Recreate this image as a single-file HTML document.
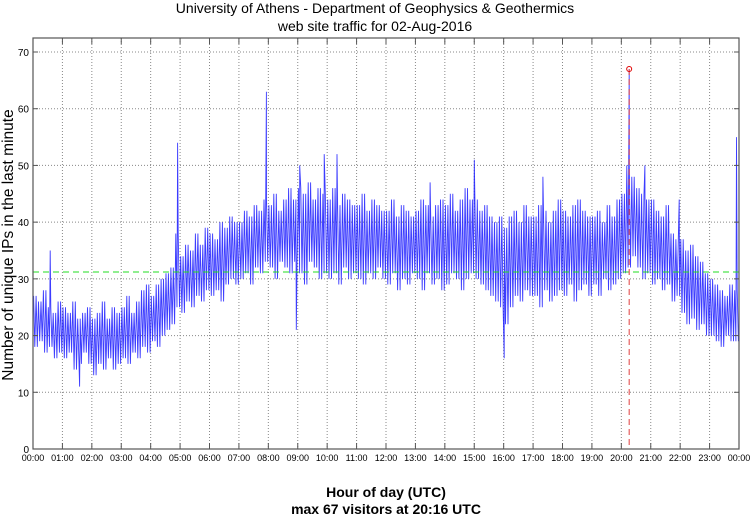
<!DOCTYPE html>
<html><head><meta charset="utf-8"><style>
body{margin:0;background:#fff;}
svg{display:block;font-family:"Liberation Sans",sans-serif;}
</style></head><body>
<svg id="chart" width="750" height="515" viewBox="0 0 750 515">
<text x="375" y="13" text-anchor="middle" font-size="14">University of Athens - Department of Geophysics &amp; Geothermics</text>
<text x="375" y="31" text-anchor="middle" font-size="14">web site traffic for 02-Aug-2016</text>
<text transform="translate(13,245) rotate(-90)" text-anchor="middle" font-size="15.5">Number of unique IPs in the last minute</text>
<text x="386" y="497" text-anchor="middle" font-size="14" font-weight="bold">Hour of day (UTC)</text>
<text x="386" y="514" text-anchor="middle" font-size="14" font-weight="bold">max 67 visitors at 20:16 UTC</text>
<g id="grid"></g><g id="series"></g><g id="axes"></g>
</svg>
<script>
const yTicks=[0,10,20,30,40,50,60,70];
const xTickLabels=["00:00","01:00","02:00","03:00","04:00","05:00","06:00","07:00","08:00","09:00","10:00","11:00","12:00","13:00","14:00","15:00","16:00","17:00","18:00","19:00","20:00","21:00","22:00","23:00","00:00"];
const binLow=[18,19,17,18,16,17,16,17,14,15,17,15,13,15,14,16,14,15,16,15,17,16,18,17,19,18,20,21,22,25,24,26,25,27,26,28,27,28,26,29,30,29,30,31,29,32,31,33,32,30,33,32,31,33,31,29,33,32,30,31,30,31,29,32,30,31,30,29,31,30,32,30,29,31,28,30,29,31,30,28,31,29,30,28,29,31,30,28,30,31,30,29,28,27,26,25,22,25,27,26,28,27,27,25,28,26,27,28,27,29,26,28,29,27,29,27,30,28,29,30,31,32,34,32,30,31,29,30,28,29,26,27,24,22,23,21,22,20,20,19,18,20,19,19];
const binHigh=[27,26,28,25,24,26,25,24,26,23,24,25,23,24,26,23,25,24,25,27,24,26,28,29,27,29,30,31,32,38,34,36,35,38,36,39,38,37,40,39,41,40,40,42,41,43,42,44,43,45,42,44,46,44,46,45,47,44,46,45,44,46,43,45,44,43,43,45,42,44,43,42,42,44,41,43,42,41,42,44,43,41,43,44,43,45,42,44,46,44,44,42,43,41,40,41,39,41,42,40,43,41,41,43,42,40,42,44,42,41,43,44,42,41,41,42,40,43,41,44,45,50,48,46,45,44,44,42,41,43,38,37,37,35,36,34,33,31,30,29,28,27,29,28];
const spikeMinutes=[35,95,295,476,537,544,594,620,810,900,961,1040,1216,1248,1318,1435];
const spikeValues=[35,11,54,63,21,50,52,52,47,51,16,48,67,50,44,55];
const meanValue=31.2;
const maxMinute=1216, maxValue=67;

const L=33,R=739,T=38,B=449;
const xs=m=>L+(R-L)*m/1440;
const NS="http://www.w3.org/2000/svg";
function mk(tag,attrs,parent){const e=document.createElementNS(NS,tag);for(const k in attrs)e.setAttribute(k,attrs[k]);parent.appendChild(e);return e;}
const grid=document.getElementById('grid'),series=document.getElementById('series'),axes=document.getElementById('axes');
function yv(v){return B-(B-52)*v/70;}
yTicks.forEach(v=>{
  const y=yv(v);
  if(v>0){const g=mk('line',{x1:L,x2:R,y1:y,y2:y,stroke:'#888','stroke-dasharray':'1,2','stroke-width':1},grid);
  
  }
  const t=mk('text',{x:L-4,y:y+4,'text-anchor':'end','font-size':10},axes);t.textContent=v;
  
  
  mk('line',{x1:L,x2:L+5,y1:y,y2:y,stroke:'#555'},axes);
  mk('line',{x1:R,x2:R-5,y1:y,y2:y,stroke:'#555'},axes);
});
xTickLabels.forEach((lab,i)=>{
  const x=xs(i*60);
  if(i>0&&i<24){const g=mk('line',{x1:x,x2:x,y1:T,y2:B,stroke:'#888','stroke-dasharray':'1,2'},grid);
  
  }
  mk('line',{x1:x,x2:x,y1:B,y2:B-6,stroke:'#555'},axes);
  mk('line',{x1:x,x2:x,y1:T,y2:T+6,stroke:'#555'},axes);
  const t=mk('text',{x:x,y:461,'text-anchor':'middle','font-size':9},axes);t.textContent=lab;
  
  
});
const box=mk('rect',{x:L,y:T,width:R-L,height:B-T,fill:'none',stroke:'#555','stroke-width':1.2},axes);


let pts=[];
binLow.forEach((lo,i)=>{const hi=binHigh[i],t0=i*10;
  pts.push([t0+1.25,hi],[t0+3.75,lo],[t0+6.25,hi],[t0+8.75,lo]);});
spikeMinutes.forEach((m,i)=>pts.push([m,spikeValues[i]]));
pts.sort((a,b)=>a[0]-b[0]);
const d=pts.map((p,i)=>(i?'L':'M')+xs(p[0]).toFixed(1)+','+yv(p[1]).toFixed(1)).join('');
const line=mk('path',{d:d,fill:'none',stroke:'#1a1aff','stroke-width':0.9,'stroke-opacity':0.85},series);


const mean=mk('line',{x1:L,x2:R,y1:yv(meanValue),y2:yv(meanValue),stroke:'#22dd22','stroke-dasharray':'6,4','stroke-width':1},series);


const mx=xs(maxMinute);
const vl=mk('line',{x1:mx,x2:mx,y1:yv(maxValue),y2:B,stroke:'#e04040','stroke-dasharray':'6,4','stroke-width':1},series);


const mc=mk('circle',{cx:mx,cy:yv(maxValue),r:2.5,fill:'none',stroke:'#e00000','stroke-width':1},series);


</script>
</body></html>
